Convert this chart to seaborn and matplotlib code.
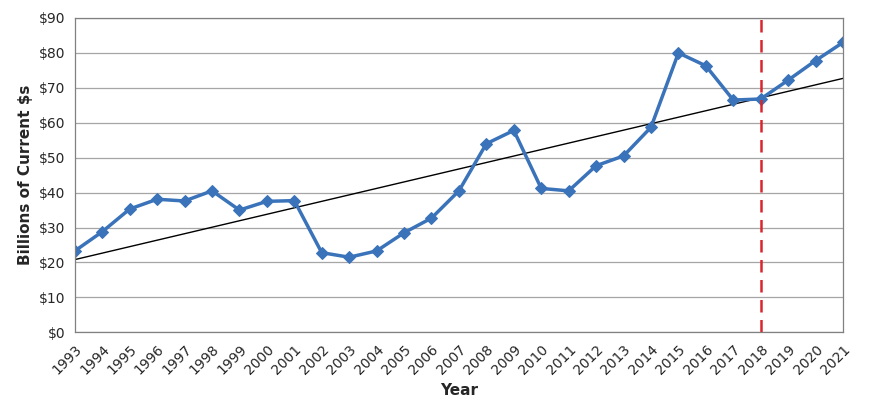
import numpy as np
import pandas as pd
import matplotlib
matplotlib.use("Agg")
import matplotlib.pyplot as plt
import seaborn as sns

years = list(range(1993, 2022))
values = [23.3, 28.8, 35.3, 38.1, 37.6, 40.5, 35.0, 37.5, 37.7, 22.8,
          21.5, 23.3, 28.5, 32.7, 40.5, 54.0, 57.8, 41.2, 40.5, 47.7,
          50.5, 58.7, 80.0, 76.3, 66.5, 66.8, 72.2, 77.8, 83.0]
y_ticks = [0, 10, 20, 30, 40, 50, 60, 70, 80, 90]
marker_year = 2018

df = pd.DataFrame({"Year": years, "Value": values})

# Linear trend through the series
slope, intercept = np.polyfit(df["Year"], df["Value"], 1)
df["Trend"] = slope * df["Year"] + intercept

sns.set_style("white")
fig, ax = plt.subplots(figsize=(8.7, 4.18), dpi=100)
fig.subplots_adjust(left=0.086, right=0.969, top=0.957, bottom=0.205)

for t in y_ticks:
    ax.axhline(t, color="#a6a6a6", linewidth=0.9, zorder=0)

sns.lineplot(data=df, x="Year", y="Trend", color="black", linewidth=1.0, ax=ax)
sns.lineplot(data=df, x="Year", y="Value", color="#3a73b9", linewidth=2.5,
             marker="D", markersize=6.5, markeredgecolor="#3a73b9", ax=ax)
ax.axvline(marker_year, color="#d9262e", linestyle=(0, (5, 3)), linewidth=1.8)

ax.set_xlim(years[0], years[-1])
ax.set_ylim(0, 90)
ax.set_yticks(y_ticks)
ax.set_yticklabels([f"${t}" for t in y_ticks], fontsize=10)
ax.set_xticks(years)
ax.set_xticklabels([str(y) for y in years], rotation=45, ha="right",
                   rotation_mode="anchor", fontsize=10)
ax.set_xlabel("Year", fontsize=11, fontweight="bold")
ax.set_ylabel("Billions of Current $s", fontsize=11, fontweight="bold")
for s in ax.spines.values():
    s.set_color("#808080")
    s.set_linewidth(0.9)

fig.savefig("out.png", dpi=100)
